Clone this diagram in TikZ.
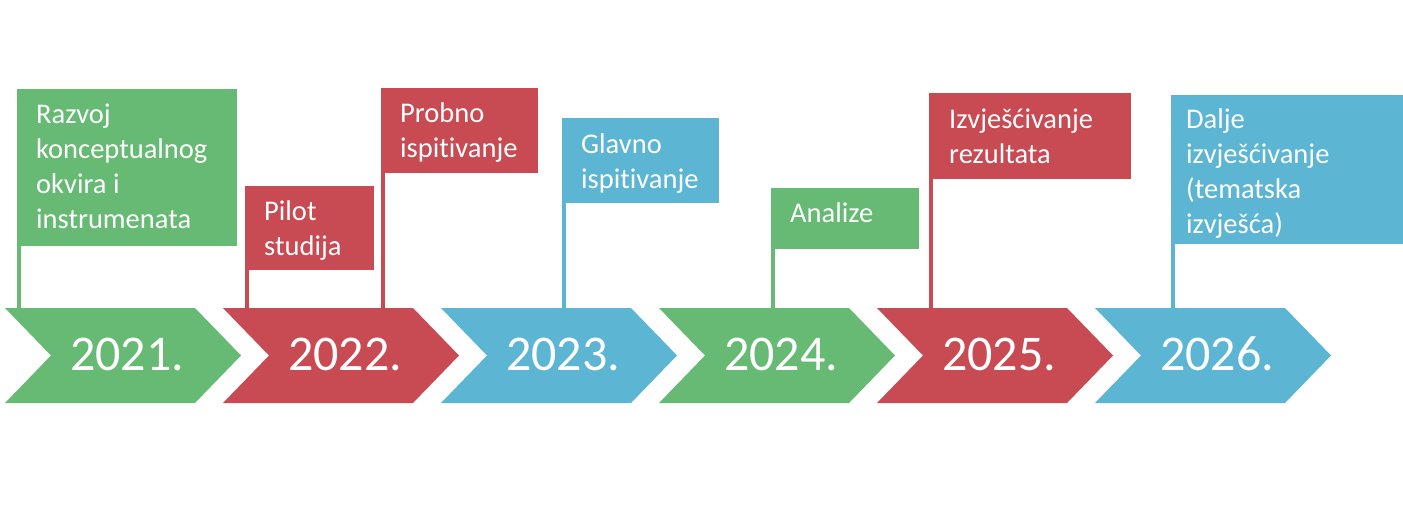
\documentclass[tikz,border=0pt]{standalone}
\usepackage{fontspec}
\setmainfont[Ligatures={NoCommon,NoRare,NoContextual}]{Carlito}
\definecolor{cgreen}{HTML}{66BA73}
\definecolor{cred}{HTML}{C84A52}
\definecolor{cblue}{HTML}{5BB5D3}
\begin{document}
\begin{tikzpicture}[x=1pt,y=-1pt,
  flagbox/.style={anchor=north west,inner sep=0pt,outer sep=0pt,draw=none},
  flagtext/.style={anchor=north west,inner sep=0pt,align=left,text=white,
     font=\fontsize{28.5}{35}\selectfont},
  pole/.style={line width=4pt},
  yeartext/.style={anchor=base,text=white,inner sep=0pt,font=\fontsize{50}{60}\selectfont}]
\useasboundingbox (0,0) rectangle (1403,523);
\fill[white] (0,0) rectangle (1403,523);
% chevrons
\foreach \x/\c/\y/\n in {5/cgreen/2021./c1,223/cred/2022./c2,441/cblue/2023./c3,659/cgreen/2024./c4,877/cred/2025./c5,1095/cblue/2026./c6}{
  \fill[\c] (\x,308) -- ++(190,0) -- ++(46,47.5) -- ++(-46,47.5) -- ++(-190,0) -- ++(46,-47.5) -- cycle;
  \node[yeartext] (\n) at (\x+122,370) {\y};
}
% flags
\newcommand{\flagit}[9]{% name, color, x1,y1,x2,y2, tx, tb, text
  \node[flagbox,fill=#2,minimum width=#5-#3,minimum height=#6-#4] (#1) at (#3,#4) {};
  \coordinate (#1p) at (#3+2,308);
  \draw[pole,draw=#2] ([xshift=2pt]#1.south west) -- (#1p);
  \node[flagtext] (#1t) at (#7,#8-24.5) {\strut #9};
}
\flagit{f1}{cgreen}{17}{89}{237}{246}{36}{123}{Razvoj\\konceptualnog\\okvira i\\instrumenata}
\flagit{f2}{cred}{245}{186}{374}{270}{264}{220}{Pilot\\studija}
\flagit{f3}{cred}{381}{88}{538}{173}{400}{122}{Probno\\ispitivanje}
\flagit{f4}{cblue}{562}{118}{719}{203}{581}{153}{Glavno\\ispitivanje}
\flagit{f5}{cgreen}{771}{188}{919}{249}{790}{222}{Analize}
\flagit{f6}{cred}{929}{93}{1131}{179}{949}{128}{Izvješćivanje\\rezultata}
\flagit{f7}{cblue}{1171}{95}{1403}{244}{1186}{128}{Dalje\\izvješćivanje\\(tematska\\izvješća)}
\end{tikzpicture}
\end{document}
